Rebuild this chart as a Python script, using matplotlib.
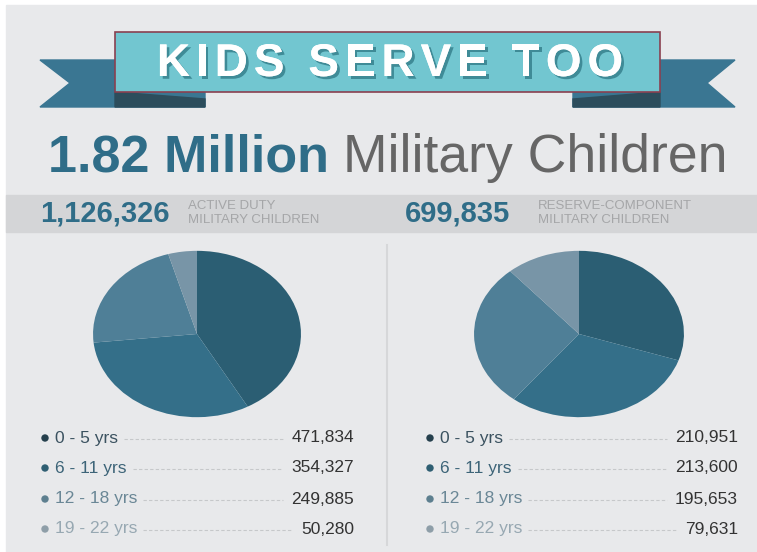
import matplotlib
matplotlib.use('Agg')
import matplotlib.pyplot as plt
import matplotlib.patheffects as pe
from matplotlib.patches import Rectangle, Polygon, Circle

# ---- data ----
age_groups = ['0 - 5 yrs', '6 - 11 yrs', '12 - 18 yrs', '19 - 22 yrs']
active_duty = [471834, 354327, 249885, 50280]
reserve = [210951, 213600, 195653, 79631]
active_total = '1,126,326'
reserve_total = '699,835'
title = 'KIDS SERVE TOO'
headline_bold = '1.82 Million'
headline_rest = 'Military Children'

slice_colors = ['#2b5e73', '#346f89', '#4f7f97', '#7895a7']
dot_colors = ['#243f4c', '#2e5e72', '#5d7f8f', '#8e9ea8']
label_colors = ['#3b5260', '#3d6478', '#6a8796', '#97a8b2']
blue = '#2f6d88'

W, H = 757, 552
plt.rcParams['font.family'] = ['Liberation Sans', 'DejaVu Sans']
fig = plt.figure(figsize=(W / 100, H / 100), dpi=100, facecolor='white')
ax = fig.add_axes([0, 0, 1, 1])
ax.set_xlim(0, W)
ax.set_ylim(H, 0)
ax.axis('off')
renderer = fig.canvas.get_renderer()


def extent(t):
    bb = t.get_window_extent(renderer)
    return bb.x0, bb.x1


# background + band
ax.add_patch(Rectangle((6, 5), W - 6, H - 5, color='#e8e9eb', zorder=0))
ax.add_patch(Rectangle((6, 195), W - 6, 37, color='#d4d5d7', zorder=1))

# ribbon banner
tail = '#3a7692'
fold = '#2c4d5c'
ax.add_patch(Polygon([(40, 60), (205, 60), (205, 107), (40, 107), (70, 83)], color=tail, zorder=2))
ax.add_patch(Polygon([(573, 60), (735, 60), (707, 83), (735, 107), (573, 107)], color=tail, zorder=2))
ax.add_patch(Polygon([(115, 92), (205, 99), (205, 107), (115, 107)], color=fold, zorder=3))
ax.add_patch(Polygon([(573, 99), (660, 92), (660, 107), (573, 107)], color=fold, zorder=3))
ax.add_patch(Rectangle((115, 32), 545, 60, facecolor='#72c6d0', edgecolor='#8a4050', lw=1.2, zorder=4))

# title with letter spacing, drop shadow via path effect
shadow = [pe.withSimplePatchShadow(offset=(2, -2), shadow_rgbFace='#3f8b97', alpha=1.0), pe.Normal()]
chars = []
x = 0
for ch in title:
    t = ax.text(x, 64, ch, fontsize=33, fontweight='bold', color='white', va='center', ha='left',
                zorder=6, path_effects=shadow)
    x0, x1 = extent(t)
    chars.append((t, x))
    x += (x1 - x0 if ch != ' ' else 12) + 6
shift = 390 - (x - 6) / 2
for t, cx in chars:
    t.set_x(cx + shift)

# headline
ax.text(48, 172, headline_bold, fontsize=37.5, fontweight='bold', color=blue, va='baseline')
ax.text(343, 172, headline_rest, fontsize=38.5, color='#666666', va='baseline')

# band texts
ax.text(40, 214, active_total, fontsize=21, fontweight='bold', color=blue, va='center')
ax.text(188, 213, 'ACTIVE DUTY\nMILITARY CHILDREN', fontsize=9.5, color='#a5a6a8', va='center', linespacing=1.15)
ax.text(405, 214, reserve_total, fontsize=21, fontweight='bold', color=blue, va='center')
ax.text(538, 213, 'RESERVE-COMPONENT\nMILITARY CHILDREN', fontsize=9.5, color='#a5a6a8', va='center', linespacing=1.15)

# divider
ax.plot([387, 387], [245, 545], color='#d6d7d9', lw=1.5, zorder=1)

# pies (elliptical, as in the reference)
for vals, (px0, px1) in [(active_duty, (92, 302)), (reserve, (473, 685))]:
    pax = fig.add_axes([px0 / W, 1 - 418 / H, (px1 - px0) / W, 168 / H])
    pax.pie(vals, colors=slice_colors, startangle=90, counterclock=False,
            wedgeprops=dict(linewidth=0))
    pax.set_aspect('auto')
    pax.set_xlim(-1.01, 1.01)
    pax.set_ylim(-1.01, 1.01)

# legends
row_y = [438, 468, 499, 529]
for vals, dot_x, lab_x, val_r in [(active_duty, 45, 55, 354), (reserve, 430, 440, 738)]:
    for i, v in enumerate(vals):
        y = row_y[i]
        ax.add_patch(Circle((dot_x, y), 3, color=dot_colors[i], zorder=3))
        lt = ax.text(lab_x, y, age_groups[i], fontsize=12.5, color=label_colors[i], va='center')
        vt = ax.text(val_r, y, f'{v:,}', fontsize=12.5, color='#333333', va='center', ha='right')
        _, lx1 = extent(lt)
        vx0, _ = extent(vt)
        ax.plot([lx1 + 6, vx0 - 8], [y + 1, y + 1], color='#c6c8ca', lw=0.8, dashes=(3, 2), zorder=2)

fig.savefig('out.png', dpi=100, facecolor='white')
